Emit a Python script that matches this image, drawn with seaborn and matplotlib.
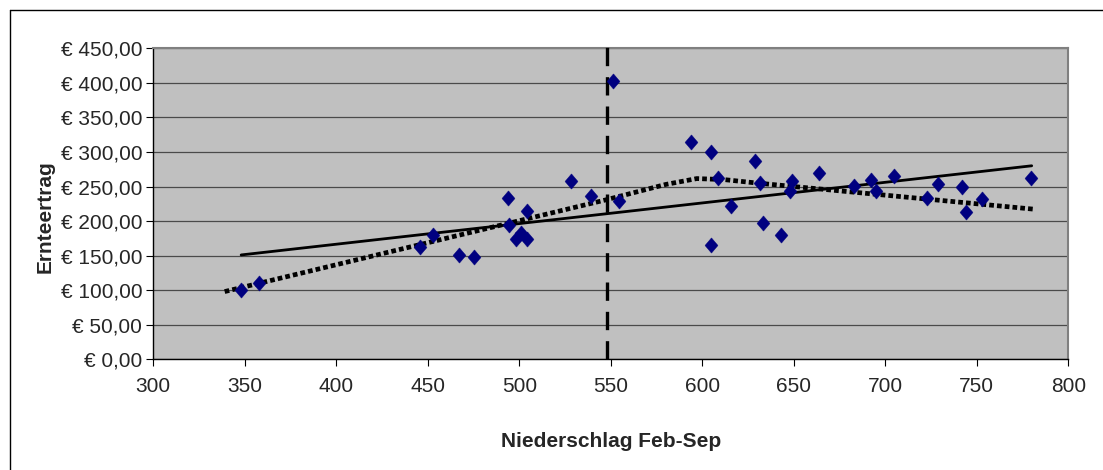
import numpy as np
import pandas as pd
import matplotlib
matplotlib.use("Agg")
import matplotlib.pyplot as plt
import seaborn as sns
from matplotlib.ticker import FuncFormatter, MultipleLocator
from matplotlib.lines import Line2D

# ---- data ----
niederschlag = [348, 358, 446, 453, 467, 475, 494, 494.5, 498, 501, 504, 504,
                528, 539, 551, 554.5, 594, 604.5, 604.5, 608.7, 615.5, 629,
                631.5, 633, 643, 649, 648, 664, 683, 692, 695, 705, 723, 729,
                742, 744, 753, 779.6]
ertrag = [100, 110, 163, 180, 151, 148.5, 233, 194, 174, 183, 214, 174,
          258.5, 236, 402, 229.5, 315, 300.5, 165.5, 262, 222, 287,
          255.5, 197, 179.5, 258.5, 244, 270, 251, 259.5, 244, 265, 233, 253,
          250, 213.6, 231.5, 262]

# linear trend (endpoints)
lin_x = [348, 780]
lin_y = [151, 280]

# dotted (segmented) trend
seg_x = [339, 547, 580, 597, 612, 630, 782]
seg_y = [98, 230.5, 253, 261.5, 260, 255, 217]

# vertical marker
marker_x = 548
marker_y = [0, 455]

x_ticks = [300, 350, 400, 450, 500, 550, 600, 650, 700, 750, 800]

df = pd.DataFrame({"Niederschlag": niederschlag, "Ertrag": ertrag})

sns.set_style("white")
plt.rcParams["font.family"] = ["Liberation Sans", "DejaVu Sans"]

W, H = 1103, 470
fig = plt.figure(figsize=(W / 100, H / 100), dpi=100)
L, R, T, B = 153.3, 1068.3, 48.3, 359.3
ax = fig.add_axes([L / W, 1 - B / H, (R - L) / W, (B - T) / H])
ax.set_facecolor("#C0C0C0")

ax.set_xlim(300, 800)
ax.set_ylim(0, 450)
ax.yaxis.set_major_locator(MultipleLocator(50))
ax.set_xticks(x_ticks)
ax.yaxis.grid(True, color="#4a4a4a", lw=0.9)
ax.xaxis.grid(False)
ax.set_axisbelow(True)

ax.yaxis.set_major_formatter(FuncFormatter(lambda v, p: ("€ %.2f" % v).replace(".", ",")))

for s in ["top", "right"]:
    ax.spines[s].set_color("#808080")
    ax.spines[s].set_linewidth(1.5)
for s in ["left", "bottom"]:
    ax.spines[s].set_color("black")
    ax.spines[s].set_linewidth(1.0)

ax.tick_params(axis="y", which="major", direction="out", length=5, width=0.8,
               color="black", labelsize=15, pad=3, left=True)
ax.tick_params(axis="x", which="major", direction="out", length=5, width=0.8,
               color="black", labelsize=15, pad=8, bottom=True)

# trend lines
sns.lineplot(x=lin_x, y=lin_y, ax=ax, color="black", lw=2.0, zorder=3)
sns.lineplot(x=seg_x, y=seg_y, ax=ax, color="black", lw=3.4, zorder=3,
             linestyle=(0, (1.0, 0.65)), dash_capstyle="butt")

# vertical dashed line
ax.plot([marker_x, marker_x], marker_y, color="black", lw=2.4,
        linestyle=(0, (5.5, 3.3)), clip_on=False, zorder=4, solid_capstyle="butt",
        dash_capstyle="butt")

# scatter (slightly tall diamond)
diamond = [(0, 1), (0.85, 0), (0, -1), (-0.85, 0), (0, 1)]
sns.scatterplot(data=df, x="Niederschlag", y="Ertrag", ax=ax, marker=diamond,
                color="#000080", edgecolor="#000080", s=120, zorder=5, linewidth=0.3)

ax.set_xlabel("Niederschlag Feb-Sep", fontsize=15, fontweight="bold")
ax.set_ylabel("Ernteertrag", fontsize=15, fontweight="bold")
ax.xaxis.set_label_coords(0.5, -0.235)
ax.yaxis.set_label_coords(-0.108, 0.46)

# outer chart border (left and top visible)
fig.add_artist(Line2D([9.5 / W, 9.5 / W], [0, 1 - 10 / H], transform=fig.transFigure,
                      color="black", lw=1.0))
fig.add_artist(Line2D([9.5 / W, 1], [1 - 10 / H, 1 - 10 / H], transform=fig.transFigure,
                      color="black", lw=1.0))

fig.savefig("out.png", dpi=100, facecolor="white")
